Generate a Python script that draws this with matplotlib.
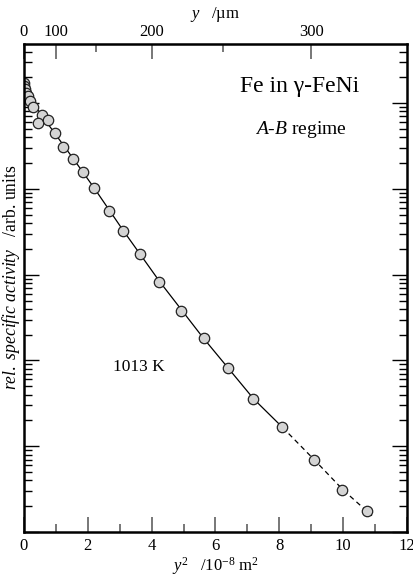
import numpy as np
import matplotlib
matplotlib.use("Agg")
import matplotlib.pyplot as plt
from matplotlib.ticker import FixedLocator, LogLocator, NullFormatter

plt.rcParams['font.family'] = ['Liberation Serif', 'DejaVu Serif']
plt.rcParams['mathtext.fontset'] = 'custom'
plt.rcParams['mathtext.rm'] = 'Liberation Serif'
plt.rcParams['mathtext.it'] = 'Liberation Serif:italic'

# measured points: y^2 in 1e-8 m^2, log10 of rel. specific activity
y2 = [0.00, 0.01, 0.03, 0.06, 0.13, 0.19, 0.29, 0.55, 0.43, 0.74, 0.97, 1.23,
      1.55, 1.84, 2.19, 2.66, 3.10, 3.64, 4.24, 4.93, 5.63, 6.39, 7.19, 8.09,
      9.09, 9.97, 10.75]
logact = [5.24, 5.20, 5.16, 5.12, 5.08, 5.02, 4.96, 4.86, 4.77, 4.80, 4.65, 4.49,
          4.35, 4.20, 4.01, 3.74, 3.51, 3.24, 2.92, 2.58, 2.26, 1.91, 1.55, 1.22,
          0.84, 0.49, 0.24]

# fitted curve (solid part and dashed extrapolation)
fit_x = [0.0, 0.55, 1.0, 1.55, 2.2, 3.1, 4.25, 5.6, 6.4, 7.2, 8.1]
fit_log = [5.16, 4.86, 4.63, 4.35, 4.01, 3.52, 2.92, 2.27, 1.91, 1.55, 1.22]
ext_x = [8.1, 9.1, 10.0, 10.9]
ext_log = [1.22, 0.84, 0.49, 0.19]

fig = plt.figure(figsize=(4.14, 5.88), dpi=100)
ax = fig.add_axes([24/414, 56/588, 383/414, 488/588])

ax.plot(fit_x, 10**np.array(fit_log), color='black', lw=0.9)
ax.plot(ext_x, 10**np.array(ext_log), color='black', lw=0.9, ls=(0, (4, 3)))
ax.plot(y2, 10**np.array(logact), 'o', ms=7.5, mfc='#d4d4d4', mec='#222222', mew=0.9)

ax.set_yscale('log')
ax.set_xlim(0, 12)
ax.set_ylim(1, 10**5.69)

ax.xaxis.set_major_locator(FixedLocator([0, 2, 4, 6, 8, 10, 12]))
ax.xaxis.set_minor_locator(FixedLocator([1, 3, 5, 7, 9, 11]))
ax.yaxis.set_major_locator(LogLocator(base=10, numticks=10))
ax.yaxis.set_minor_locator(LogLocator(base=10, subs=np.arange(2, 10), numticks=20))
ax.yaxis.set_major_formatter(NullFormatter())
ax.yaxis.set_minor_formatter(NullFormatter())

ax.tick_params(axis='both', which='both', direction='in')
ax.tick_params(axis='x', which='major', length=11, width=1.4, color='#777777', labelsize=12, pad=4)
ax.tick_params(axis='x', which='minor', length=6, width=1.4, color='#777777')
ax.tick_params(axis='y', which='major', length=11, width=1.0, right=True)
ax.tick_params(axis='y', which='minor', length=6, width=1.0, right=True)
for s in ax.spines.values():
    s.set_linewidth(1.8)

ax.set_xlabel(r'$y^2$   /10$^{\mathrm{-8}}$ m$^2$', fontsize=12, labelpad=1)
ax.set_ylabel(r'$\it{rel.\ specific\ activity}$   /arb. units', fontsize=12.7)
ax.yaxis.set_label_coords(-0.006, 0.522)

top = ax.secondary_xaxis('top', functions=(lambda x: 100*np.sqrt(np.maximum(x, 0)),
                                           lambda y: (np.asarray(y)/100.0)**2))
top.xaxis.set_major_locator(FixedLocator([0, 100, 200, 300]))
top.xaxis.set_minor_locator(FixedLocator([150, 250]))
top.tick_params(which='major', direction='in', length=11, width=1.4, color='#777777', labelsize=12, pad=3)
top.tick_params(which='minor', direction='in', length=6, width=1.4, color='#777777')
top.set_xlabel(r'$y$   /µm', fontsize=12, labelpad=4)

ax.text(0.875, 0.912, 'Fe in γ-FeNi', transform=ax.transAxes, ha='right', va='center', fontsize=17)
ax.text(0.843, 0.824, r'$\it{A}$-$\it{B}$ regime', transform=ax.transAxes, ha='right', va='center', fontsize=14)
ax.text(0.232, 0.338, '1013 K', transform=ax.transAxes, ha='left', va='center', fontsize=12.5)

fig.savefig('out.png', dpi=100)
